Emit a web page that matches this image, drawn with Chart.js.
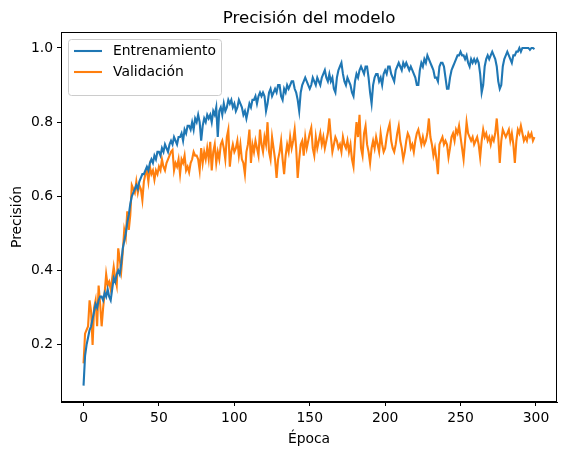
<!DOCTYPE html>
<html>
<head>
<meta charset="utf-8">
<script src="https://cdn.jsdelivr.net/npm/chart.js@4/dist/chart.umd.min.js"></script>
<style>
  body { margin: 0; background: #fff; }
  canvas { display: block; }
</style>
</head>
<body>
<canvas id="chart" width="567" height="457"></canvas>
<script>
// Precisión por época
const entrenamiento = [
  0.09, 0.17, 0.20, 0.22, 0.24, 0.25, 0.27, 0.29, 0.31, 0.30,
  0.32, 0.33, 0.33, 0.32, 0.34, 0.33, 0.35, 0.33, 0.32, 0.35,
  0.38, 0.37, 0.39, 0.40, 0.39, 0.42, 0.46, 0.48, 0.50, 0.53,
  0.55, 0.58, 0.60, 0.61, 0.62, 0.63, 0.62, 0.64, 0.65, 0.66,
  0.66, 0.67, 0.68, 0.67, 0.69, 0.70, 0.69, 0.71, 0.70, 0.72,
  0.72, 0.71, 0.73, 0.72, 0.74, 0.73, 0.72, 0.74, 0.75, 0.74,
  0.76, 0.75, 0.74, 0.76, 0.76, 0.77, 0.75, 0.78, 0.77, 0.79,
  0.79, 0.78, 0.80, 0.78, 0.81, 0.80, 0.82, 0.80, 0.75, 0.79,
  0.81, 0.80, 0.82, 0.81, 0.82, 0.80, 0.83, 0.82, 0.84, 0.76,
  0.83, 0.84, 0.82, 0.85, 0.83, 0.84, 0.86, 0.85, 0.86, 0.84,
  0.85, 0.83, 0.84, 0.86, 0.85, 0.84, 0.82, 0.83, 0.81, 0.83,
  0.85, 0.84, 0.86, 0.86, 0.87, 0.85, 0.87, 0.88, 0.87, 0.88,
  0.87, 0.83, 0.85, 0.88, 0.89, 0.87, 0.88, 0.89, 0.88, 0.90,
  0.90, 0.87, 0.86, 0.89, 0.88, 0.90, 0.89, 0.90, 0.91, 0.91,
  0.89, 0.88, 0.86, 0.83, 0.88, 0.90, 0.91, 0.92, 0.91, 0.90,
  0.89, 0.90, 0.92, 0.91, 0.90, 0.92, 0.91, 0.90, 0.92, 0.93,
  0.94, 0.92, 0.91, 0.93, 0.91, 0.92, 0.89, 0.88, 0.92, 0.94,
  0.95, 0.96, 0.93, 0.91, 0.90, 0.92, 0.91, 0.90, 0.88, 0.87,
  0.91, 0.93, 0.92, 0.94, 0.95, 0.94, 0.93, 0.95, 0.95, 0.92,
  0.88, 0.85, 0.90, 0.92, 0.93, 0.93, 0.91, 0.92, 0.90, 0.93,
  0.94, 0.93, 0.95, 0.95, 0.93, 0.92, 0.91, 0.94, 0.95, 0.96,
  0.95, 0.94, 0.96, 0.95, 0.96, 0.95, 0.94, 0.95, 0.94, 0.93,
  0.92, 0.90, 0.90, 0.94, 0.96, 0.95, 0.97, 0.96, 0.98, 0.97,
  0.96, 0.95, 0.94, 0.92, 0.92, 0.91, 0.95, 0.96, 0.96, 0.95,
  0.92, 0.89, 0.89, 0.92, 0.94, 0.95, 0.96, 0.97, 0.98, 0.98,
  0.99, 0.98, 0.98, 0.97, 0.98, 0.96, 0.95, 0.97, 0.96, 0.97,
  0.96, 0.97, 0.96, 0.93, 0.88, 0.90, 0.95, 0.97, 0.98, 0.97,
  0.98, 0.99, 0.98, 0.97, 0.95, 0.91, 0.89, 0.90, 0.95, 0.97,
  0.98, 0.99, 0.98, 0.97, 0.96, 0.98, 0.98, 0.99, 0.99, 1.00,
  0.99, 1.00, 1.00, 1.00, 1.00, 1.00, 0.995, 1.00, 1.00, 0.997
];

const validacion = [
  0.15, 0.23, 0.24, 0.25, 0.32, 0.29, 0.20, 0.30, 0.32, 0.25,
  0.36, 0.31, 0.25, 0.30, 0.34, 0.39, 0.36, 0.37, 0.35, 0.38,
  0.41, 0.38, 0.36, 0.46, 0.43, 0.40, 0.45, 0.51, 0.49, 0.56,
  0.51, 0.55, 0.63, 0.62, 0.61, 0.64, 0.61, 0.63, 0.62, 0.59,
  0.64, 0.66, 0.67, 0.64, 0.68, 0.66, 0.67, 0.645, 0.67, 0.66,
  0.68, 0.67, 0.70, 0.68, 0.67, 0.69, 0.70, 0.71, 0.72, 0.725,
  0.67, 0.69, 0.68, 0.70, 0.66, 0.70, 0.69, 0.71, 0.67, 0.68,
  0.665, 0.69, 0.70, 0.72, 0.71, 0.71, 0.70, 0.67, 0.73, 0.69,
  0.72, 0.70, 0.73, 0.70, 0.747, 0.67, 0.72, 0.74, 0.69, 0.72,
  0.70, 0.74, 0.75, 0.73, 0.70, 0.76, 0.78, 0.68, 0.72, 0.74,
  0.72, 0.73, 0.75, 0.71, 0.74, 0.70, 0.69, 0.66, 0.72, 0.74,
  0.78, 0.69, 0.74, 0.72, 0.75, 0.73, 0.71, 0.78, 0.74, 0.72,
  0.76, 0.74, 0.80, 0.72, 0.70, 0.76, 0.73, 0.70, 0.65, 0.70,
  0.72, 0.75, 0.70, 0.66, 0.71, 0.74, 0.72, 0.76, 0.73, 0.75,
  0.78, 0.73, 0.65, 0.70, 0.74, 0.75, 0.71, 0.76, 0.73, 0.75,
  0.77, 0.785, 0.73, 0.71, 0.76, 0.73, 0.75, 0.77, 0.74, 0.76,
  0.73, 0.75, 0.77, 0.81, 0.76, 0.72, 0.74, 0.76, 0.75, 0.73,
  0.74, 0.72, 0.76, 0.74, 0.73, 0.75, 0.72, 0.74, 0.70, 0.68,
  0.75, 0.80, 0.76, 0.82, 0.73, 0.71, 0.77, 0.79, 0.74, 0.72,
  0.69, 0.73, 0.75, 0.73, 0.76, 0.74, 0.72, 0.77, 0.74, 0.72,
  0.73, 0.76, 0.78, 0.795, 0.75, 0.73, 0.72, 0.74, 0.77, 0.79,
  0.75, 0.73, 0.70, 0.72, 0.75, 0.77, 0.76, 0.73, 0.74, 0.72,
  0.75, 0.77, 0.78, 0.76, 0.74, 0.76, 0.74, 0.75, 0.77, 0.81,
  0.76, 0.74, 0.71, 0.73, 0.70, 0.66, 0.74, 0.75, 0.76, 0.74,
  0.75, 0.74, 0.705, 0.73, 0.76, 0.77, 0.75, 0.78, 0.77, 0.79,
  0.76, 0.73, 0.70, 0.75, 0.80, 0.77, 0.76, 0.75, 0.76, 0.74,
  0.75, 0.76, 0.74, 0.705, 0.75, 0.78, 0.76, 0.77, 0.75, 0.76,
  0.74, 0.76, 0.75, 0.77, 0.81, 0.76, 0.69, 0.75, 0.78, 0.77,
  0.76, 0.77, 0.78, 0.75, 0.77, 0.74, 0.69, 0.75, 0.78, 0.77,
  0.79, 0.77, 0.75, 0.76, 0.75, 0.77, 0.76, 0.77, 0.75, 0.76
];

const xTicks = [0, 50, 100, 150, 200, 250, 300];
const yTicks = [0.2, 0.4, 0.6, 0.8, 1.0];

const series = [
  { label: "Entrenamiento", values: entrenamiento, color: "#1f77b4" },
  { label: "Validación", values: validacion, color: "#ff7f0e" }
];

const FONT = "DejaVu Sans";
Chart.defaults.color = "#000";
Chart.defaults.font.family = FONT;

// Title, axis labels, top/right spines and the inner legend, matplotlib style
const decorations = {
  id: "decorations",
  afterDraw(chart) {
    const { ctx, chartArea: a } = chart;
    ctx.save();
    ctx.strokeStyle = "#000";
    ctx.lineWidth = 1;
    ctx.strokeRect(a.left + 0.5, a.top + 0.5, a.right - a.left - 1, a.bottom - a.top - 1);

    ctx.fillStyle = "#000";
    ctx.textAlign = "center";
    ctx.textBaseline = "alphabetic";
    ctx.font = "16.7px '" + FONT + "'";
    ctx.fillText("Precisión del modelo", (a.left + a.right) / 2, 23);

    ctx.font = "13.9px '" + FONT + "'";
    ctx.fillText("Época", (a.left + a.right) / 2, 443);

    ctx.save();
    ctx.translate(21, (a.top + a.bottom) / 2);
    ctx.rotate(-Math.PI / 2);
    ctx.fillText("Precisión", 0, 0);
    ctx.restore();

    // legend box
    const bx = 68, by = 39, bw = 153, bh = 56, r = 3;
    ctx.beginPath();
    ctx.roundRect(bx + 0.5, by + 0.5, bw, bh, r);
    ctx.fillStyle = "rgba(255,255,255,0.8)";
    ctx.fill();
    ctx.strokeStyle = "#cccccc";
    ctx.lineWidth = 1;
    ctx.stroke();

    ctx.textAlign = "left";
    ctx.textBaseline = "middle";
    series.forEach((s, i) => {
      const y = 51 + i * 21;
      ctx.beginPath();
      ctx.moveTo(74, y);
      ctx.lineTo(102, y);
      ctx.strokeStyle = s.color;
      ctx.lineWidth = 2.1;
      ctx.stroke();
      ctx.fillStyle = "#000";
      ctx.fillText(s.label, 113, y);
    });
    ctx.restore();
  }
};

const axisCommon = {
  type: "linear",
  grid: {
    display: true,
    drawOnChartArea: false,
    drawTicks: true,
    tickLength: 4,
    tickColor: "#000",
    tickWidth: 1
  },
  border: { display: true, color: "#000", width: 1 },
  ticks: { font: { size: 13.9 }, color: "#000", padding: 4 }
};

new Chart(document.getElementById("chart"), {
  type: "line",
  data: {
    datasets: series.map(s => ({
      label: s.label,
      data: s.values.map((v, i) => ({ x: i, y: v })),
      borderColor: s.color,
      backgroundColor: s.color,
      borderWidth: 2.1,
      pointRadius: 0,
      tension: 0,
      fill: false
    }))
  },
  options: {
    responsive: false,
    animation: false,
    layout: { padding: { left: 0, top: 32, right: 10, bottom: 0 } },
    plugins: {
      legend: { display: false },
      title: { display: false },
      tooltip: { enabled: false }
    },
    scales: {
      x: {
        ...axisCommon,
        min: -14.95,
        max: 313.95,
        afterBuildTicks: s => { s.ticks = xTicks.map(v => ({ value: v })); },
        afterFit: s => { s.height = 55; },
        ticks: { ...axisCommon.ticks, maxRotation: 0, callback: v => String(v) }
      },
      y: {
        ...axisCommon,
        min: 0.046,
        max: 1.043,
        afterBuildTicks: s => { s.ticks = yTicks.map(v => ({ value: v })); },
        afterFit: s => { s.width = 61; },
        ticks: { ...axisCommon.ticks, callback: v => v.toFixed(1) }
      }
    }
  },
  plugins: [decorations]
});
</script>
</body>
</html>
